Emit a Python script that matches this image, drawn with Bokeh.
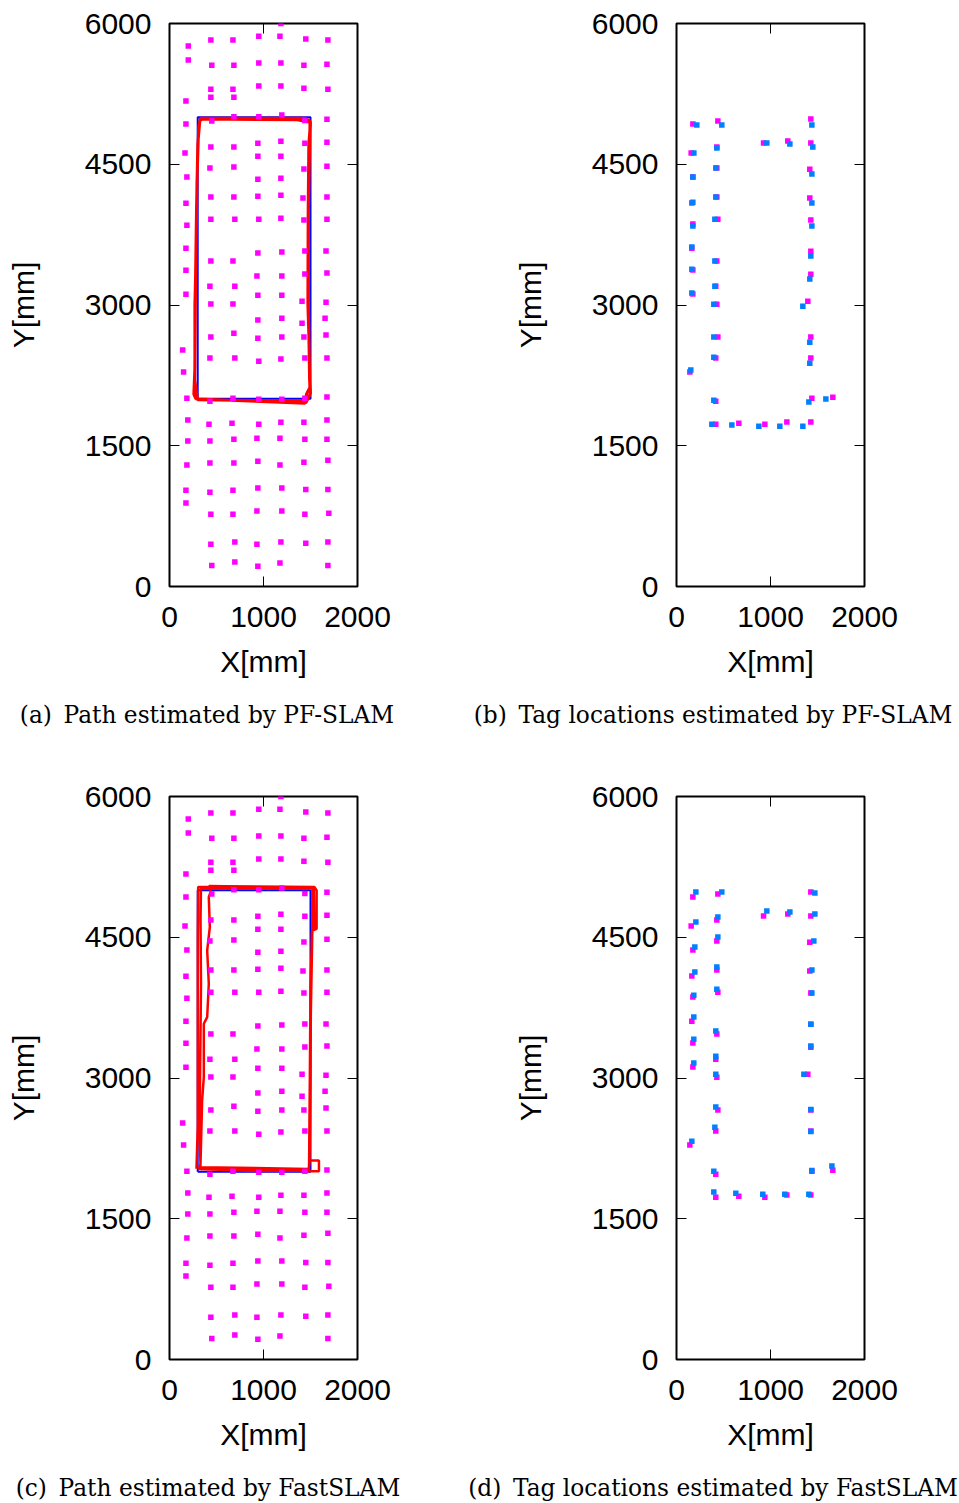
from bokeh.plotting import figure
from bokeh.models import Range1d, LinearAxis, FixedTicker
from bokeh.core.properties import value
from bokeh.layouts import column, row
from bokeh.embed import file_html
from bokeh.resources import INLINE

# ---------------- data (mm) ----------------
x_ticks = [0, 1000, 2000]
y_ticks = [0, 1500, 3000, 4500, 6000]

# all tag positions (magenta grid), panels (a) and (c)
tag_x = [1185,
         200, 440, 675, 950, 1175, 1450, 1685,
         200, 450, 685, 950, 1185, 1430, 1675,
         440, 675, 950, 1185, 1430, 1685,
         175, 440, 685,
         175, 450, 685, 950, 1195, 1440, 1675,
         165, 440, 685, 940, 1185, 1440, 1675,
         940, 1185,
         185, 430, 685, 940, 1185, 1430, 1675,
         175, 440, 685, 940, 1185, 1420, 1675,
         185, 440, 695, 950, 1185, 1430, 1675,
         175, 940, 1195, 1440, 1665,
         175, 440, 675, 930, 1195, 1440, 1675,
         175, 430, 695, 940, 1195, 1410, 1665,
         440, 675,
         940, 1195, 1410, 1655,
         440, 685, 940, 1195, 1430, 1665,
         140,
         430, 695, 950, 1185, 1440, 1675,
         150,
         185, 430, 675, 950, 1195, 1440, 1675,
         195, 420, 665, 950, 1185, 1430, 1675,
         195, 430, 685, 930, 1175, 1440, 1675,
         185, 430, 685, 940, 1175, 1430, 1685,
         175, 430, 675, 940, 1195, 1450, 1685,
         175,
         440, 675, 930, 1195, 1440, 1695,
         440, 695, 930, 1185, 1450, 1685,
         450, 695, 940, 1175, 1685]
tag_y = [6000,
         5760, 5825, 5825, 5865, 5865, 5835, 5825,
         5610, 5555, 5555, 5580, 5580, 5555, 5565,
         5300, 5300, 5335, 5335, 5310, 5300,
         5175, 5215, 5215,
         4930, 4960, 5005, 5005, 5025, 4965, 4980,
         4620, 4685, 4685, 4725, 4745, 4725, 4735,
         4585, 4585,
         4365, 4460, 4470, 4340, 4350, 4450, 4480,
         4085, 4150, 4150, 4160, 4170, 4140, 4150,
         3850, 3915, 3915, 3915, 3925, 3905, 3915,
         3605, 3555, 3565, 3575, 3575,
         3370, 3470, 3470, 3310, 3310, 3330, 3340,
         3115, 3200, 3200, 3105, 3105, 3040, 3030,
         3010, 3010,
         2840, 2860, 2805, 2860,
         2660, 2700, 2645, 2660, 2660, 2680,
         2520,
         2435, 2435, 2400, 2425, 2435, 2435,
         2285,
         2005, 1975, 2005, 1995, 1995, 2005, 2020,
         1775, 1730, 1740, 1730, 1750, 1750, 1775,
         1550, 1550, 1570, 1580, 1580, 1570, 1570,
         1295, 1315, 1315, 1335, 1295, 1325, 1345,
         1025, 1005, 1025, 1050, 1050, 1035, 1035,
         890,
         770, 770, 805, 805, 770, 780,
         450, 475, 450, 475, 460, 475,
         225, 260, 215, 250, 225]

# reference (ground truth) path
ref_x = [300, 1500, 1500, 300, 300]
ref_y = [2000, 2000, 5000, 5000, 2000]

# path estimated by PF-SLAM (two laps)
pf_path_x = [1447, 294, 277, 259, 270, 270, 277, 287, 301, 323, 348, 1358, 1500,
             1482, 1475, 1472, 1482, 1493, 1457, 1447,
             1460, 300, 268, 275, 292, 310, 330, 1440, 1495, 1478, 1478, 1490, 1500, 1460]
pf_path_y = [1954, 1997, 2007, 2050, 2334, 3009, 3294, 4004, 4715, 4964, 4981, 4974, 4946,
             4715, 4004, 3009, 2690, 2121, 2050, 1954,
             1975, 1990, 2200, 3000, 4300, 4900, 4990, 4990, 4960, 4000, 3000, 2200, 2060, 1975]

# path estimated by FastSLAM (three laps)
fs_path_x = [287, 301, 301, 301, 305, 900, 1543, 1565, 1565, 1518, 1500, 1493, 1485, 1482, 900, 312,
             330, 347, 365, 365, 401, 418, 401, 429, 418, 440, 420, 1535, 1540, 1515, 1505, 1500,
             1490, 1590, 1590, 1482, 330,
             320, 325, 335, 330, 335, 1520, 1520, 1500, 1490, 1480, 330]
fs_path_y = [2032, 2500, 3500, 4500, 5035, 5040, 5035, 5000, 4590, 4570, 4000, 3000, 2100, 2015, 2010, 2029,
             2086, 2760, 3009, 3578, 3649, 4004, 4360, 4608, 4928, 4990, 5045, 5030, 4600, 4560, 4000, 3000,
             2120, 2120, 2007, 2007, 2050,
             2500, 3000, 4000, 4700, 5020, 5025, 4600, 3500, 2100, 2030, 2050]

# tags near the path: true positions (b, d)
true_x = [174, 440, 1429, 926, 1184, 1429, 156, 429, 1418, 174, 429, 429, 163, 1418, 440, 174,
          1429, 163, 1429, 429, 174, 1429, 418, 174, 429, 1397, 440, 1429, 418, 1429, 142, 418,
          1440, 1663, 418, 663, 940, 1174, 1429]
true_y = [4928, 4960, 4981, 4726, 4747, 4726, 4619, 4683, 4448, 4363, 4459, 4150, 4086, 4139, 3915, 3862,
          3905, 3606, 3574, 3468, 3372, 3329, 3201, 3116, 3009, 3041, 2658, 2658, 2434, 2434, 2285, 1975,
          2007, 2018, 1730, 1741, 1730, 1752, 1752]

# tag locations estimated by PF-SLAM (b)
pf_tag_x = [216, 482, 1440, 961, 1206, 1450, 185, 429, 1440, 174, 418, 418, 174, 1440, 408, 174,
            1440, 163, 1429, 408, 163, 1418, 408, 163, 397, 1344, 397, 1418, 397, 1418, 152, 397,
            1408, 1589, 376, 589, 876, 1099, 1344]
pf_tag_y = [4917, 4917, 4917, 4726, 4715, 4683, 4619, 4672, 4395, 4363, 4459, 4150, 4096, 4086, 3915, 3841,
            3841, 3617, 3521, 3468, 3382, 3276, 3201, 3127, 3009, 2988, 2658, 2604, 2444, 2380, 2306, 1986,
            1965, 1997, 1730, 1720, 1709, 1709, 1709]

# tag locations estimated by FastSLAM (d)
fs_tag_x = [206, 482, 1472, 961, 1206, 1472, 206, 440, 1461, 195, 440, 429, 195, 1440, 429, 184,
            1440, 184, 1429, 418, 184, 1429, 418, 184, 418, 1355, 418, 1429, 408, 1429, 163, 397,
            1440, 1653, 397, 631, 918, 1152, 1408]
fs_tag_y = [4981, 4981, 4971, 4779, 4768, 4747, 4662, 4715, 4459, 4395, 4502, 4182, 4129, 4150, 3947, 3883,
            3905, 3649, 3574, 3500, 3414, 3340, 3233, 3159, 3041, 3041, 2690, 2665, 2476, 2430, 2327, 2007,
            2015, 2061, 1784, 1773, 1762, 1762, 1762]

captions = ["(a)\u2002Path estimated by PF-SLAM",
            "(b)\u2002Tag locations estimated by PF-SLAM",
            "(c)\u2002Path estimated by FastSLAM",
            "(d)\u2002Tag locations estimated by FastSLAM"]

MAGENTA = "#ff00ff"
TAGBLUE = "#0080ff"
TICK_FONT = "Liberation Sans"
CAP_FONT = "DejaVu Serif"
FRAME_W, FRAME_H = 188, 563
LEFT_W, RIGHT_W = 440, 519
PLOT_H = 695


def style_axis(ax, ticks, labels, axis_label=None, standoff=18, label_standoff=42):
    ax.ticker = FixedTicker(ticks=ticks)
    ax.major_tick_in = 10
    ax.major_tick_out = 0
    ax.minor_tick_line_color = None
    ax.axis_line_color = None
    ax.major_tick_line_color = "black"
    ax.major_tick_line_width = 1
    if labels:
        ax.major_label_text_font = TICK_FONT
        ax.major_label_text_font_size = "30px"
        ax.major_label_text_color = "black"
        ax.major_label_standoff = standoff
    else:
        ax.major_label_text_font_size = "1px"
        ax.major_label_text_color = None
        ax.major_label_standoff = 0
    if axis_label:
        ax.axis_label = axis_label
        ax.axis_label_text_font = TICK_FONT
        ax.axis_label_text_font_size = "30px"
        ax.axis_label_text_font_style = "normal"
        ax.axis_label_text_color = "black"
        ax.axis_label_standoff = label_standoff


def make_panel(width, left):
    p = figure(width=width, height=PLOT_H,
               x_range=Range1d(0, 2000), y_range=Range1d(0, 6000),
               x_axis_type=None, y_axis_type=None,
               output_backend="svg", toolbar_location=None, tools="",
               min_border_left=left, min_border_right=width - left - FRAME_W,
               min_border_top=23, min_border_bottom=PLOT_H - 23 - FRAME_H)
    p.outline_line_color = "black"
    p.outline_line_width = 2
    p.background_fill_color = "white"
    p.border_fill_color = "white"
    bx = LinearAxis()
    style_axis(bx, x_ticks, True, "X[mm]", standoff=20, label_standoff=15)
    p.add_layout(bx, "below")
    ly = LinearAxis()
    style_axis(ly, y_ticks, True, "Y[mm]", standoff=18, label_standoff=42)
    p.add_layout(ly, "left")
    ry = LinearAxis()
    style_axis(ry, y_ticks, False)
    p.add_layout(ry, "right")
    tx = LinearAxis()
    style_axis(tx, x_ticks, False)
    p.add_layout(tx, "above")
    return p


def make_caption(width, height, text, cx, cy_from_top):
    c = figure(width=width, height=height,
               x_range=Range1d(0, width), y_range=Range1d(0, height),
               x_axis_type=None, y_axis_type=None,
               output_backend="svg", toolbar_location=None, tools="",
               min_border_left=0, min_border_right=0, min_border_top=0, min_border_bottom=0)
    c.outline_line_color = None
    c.background_fill_color = "white"
    c.border_fill_color = "white"
    c.text(x=[cx], y=[height - cy_from_top], text=[text],
           text_font=value(CAP_FONT), text_font_size=value("23.3px"),
           text_align="center", text_baseline="middle", text_color="black")
    return c


pa = make_panel(LEFT_W, 169)
pa.line(ref_x, ref_y, line_color="#0000ff", line_width=2)
pa.line(pf_path_x, pf_path_y, line_color="#ff0000", line_width=3)
pa.scatter(tag_x, tag_y, marker="square", size=5.5, fill_color=MAGENTA, line_color=None)

pb = make_panel(RIGHT_W, 676 - LEFT_W)
pb.scatter(true_x, true_y, marker="square", size=5.5, fill_color=MAGENTA, line_color=None)
pb.scatter(pf_tag_x, pf_tag_y, marker="square", size=5.5, fill_color=TAGBLUE, line_color=None)

pc = make_panel(LEFT_W, 169)
pc.line(ref_x, ref_y, line_color="#0000ff", line_width=2)
pc.line(fs_path_x, fs_path_y, line_color="#ff0000", line_width=2.5)
pc.scatter(tag_x, tag_y, marker="square", size=5.5, fill_color=MAGENTA, line_color=None)

pd = make_panel(RIGHT_W, 676 - LEFT_W)
pd.scatter(true_x, true_y, marker="square", size=5.5, fill_color=MAGENTA, line_color=None)
pd.scatter(fs_tag_x, fs_tag_y, marker="square", size=5.5, fill_color=TAGBLUE, line_color=None)

TOP_CAP_H = 773 - PLOT_H
BOT_CAP_H = 1503 - 773 - PLOT_H
ca = make_caption(LEFT_W, TOP_CAP_H, captions[0], 206.5, 18.5)
cb = make_caption(RIGHT_W, TOP_CAP_H, captions[1], 272.5, 18.5)
cc = make_caption(LEFT_W, BOT_CAP_H, captions[2], 207.5, 18.5)
cd = make_caption(RIGHT_W, BOT_CAP_H, captions[3], 272.5, 18.5)

layout = column(row(pa, pb, spacing=0), row(ca, cb, spacing=0),
                row(pc, pd, spacing=0), row(cc, cd, spacing=0), spacing=0)
open("out.html", "w").write(file_html(layout, INLINE))
